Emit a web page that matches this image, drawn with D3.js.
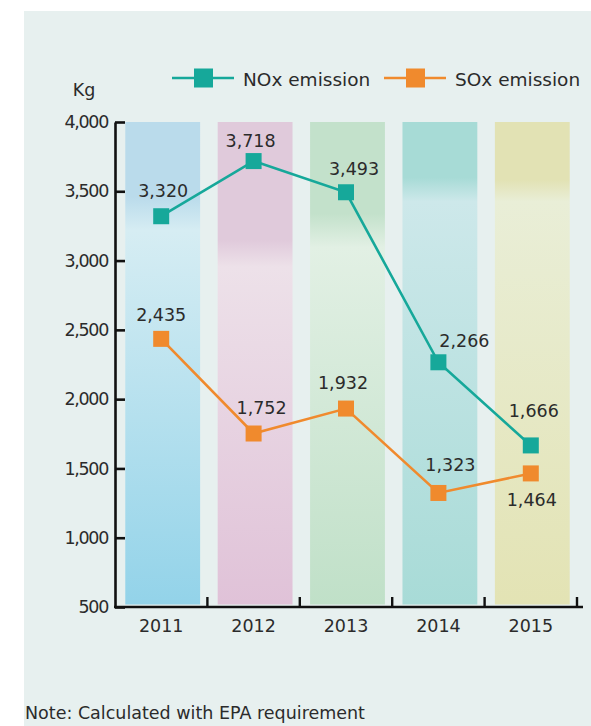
<!DOCTYPE html>
<html>
<head>
<meta charset="utf-8">
<script src="https://cdn.jsdelivr.net/npm/d3@7"></script>
<style>
  html, body { margin: 0; padding: 0; background: #ffffff; }
  svg { display: block; }
  text { font-family: "DejaVu Sans", sans-serif; fill: #2b2b2b; }
</style>
</head>
<body>
<script>
// Annual emissions (kg)
const years = ["2011", "2012", "2013", "2014", "2015"];
const noxValues = [3320, 3718, 3493, 2266, 1666];
const soxValues = [2435, 1752, 1932, 1323, 1464];
const yTicks = [500, 1000, 1500, 2000, 2500, 3000, 3500, 4000];

// Value-label placement relative to each marker [dx, dy]
const noxLabelOffset = [[2, -19], [-3, -14], [8, -17], [26, -15], [3, -28]];
const soxLabelOffset = [[0, -18], [8, -20], [-3, -20], [12, -22], [1, 33]];

// Column background tints: [top, highlight, bottom] and where the highlight band sits
const columnTints = [
  { top: "#badbeb", light: "#d6edf3", bottom: "#93d3e9", a: 0.155, b: 0.225 },
  { top: "#e0cadb", light: "#ede1e9", bottom: "#e0c2d8", a: 0.245, b: 0.30 },
  { top: "#c3e1cb", light: "#e2f0e4", bottom: "#c0e0c8", a: 0.19, b: 0.26 },
  { top: "#a7dbd6", light: "#cde8ea", bottom: "#a8dbd7", a: 0.115, b: 0.165 },
  { top: "#e2e2b4", light: "#e9eed7", bottom: "#e3e3b4", a: 0.12, b: 0.165 }
];

const W = 591, H = 726;
const noxColor = "#16a89a";
const soxColor = "#f08a2d";

const svg = d3.select("body").append("svg").attr("width", W).attr("height", H);

// panel background
svg.append("rect").attr("x", 24).attr("y", 11).attr("width", W - 24).attr("height", H - 11)
  .attr("fill", "#e7f0ef");

const x = d3.scaleBand().domain(years).range([115, 577]).paddingInner(0.19).paddingOuter(0.095);
const y = d3.scaleLinear().domain([500, 4000]).range([607, 122]);

// gradients for the column backdrops
const defs = svg.append("defs");
columnTints.forEach((t, i) => {
  const g = defs.append("linearGradient").attr("id", "col" + i)
    .attr("x1", 0).attr("y1", 0).attr("x2", 0).attr("y2", 1);
  [[0, t.top], [t.a, t.top], [t.b, t.light], [1, t.bottom]].forEach(([o, c]) =>
    g.append("stop").attr("offset", o).attr("stop-color", c));
});

// column backdrops sit a little right of the band centre
svg.append("g").selectAll("rect").data(years).join("rect")
  .attr("x", d => x(d) + 1.5)
  .attr("y", y(4000))
  .attr("width", x.bandwidth())
  .attr("height", y(500) - y(4000) - 2.5)
  .attr("fill", (d, i) => `url(#col${i})`);

// y axis
const yAxis = svg.append("g").attr("transform", "translate(115,0)")
  .call(d3.axisLeft(y).tickValues(yTicks).tickFormat(d3.format(","))
    .tickSizeInner(-10).tickSizeOuter(0).tickPadding(7));
yAxis.select(".domain").attr("stroke", "#111").attr("stroke-width", 2.6);
yAxis.selectAll(".tick line").attr("stroke", "#111").attr("stroke-width", 2.6);
yAxis.selectAll(".tick text")
  .attr("x", -7)
  .style("font-family", "DejaVu Sans, sans-serif").style("font-size", "17.5px")
  .style("letter-spacing", "-1.3px").attr("fill", "#2b2b2b");

svg.append("text").attr("x", 84).attr("y", 96).attr("text-anchor", "middle")
  .style("font-size", "17.5px").text("Kg");

// x axis
const xAxis = svg.append("g").attr("transform", `translate(0,${y(500)})`)
  .call(d3.axisBottom(x).tickSize(0).tickPadding(13));
xAxis.select(".domain").remove();
xAxis.selectAll(".tick text").style("font-family", "DejaVu Sans, sans-serif")
  .style("font-size", "17.5px").attr("fill", "#2b2b2b");

svg.append("line").attr("x1", 114).attr("x2", 583)
  .attr("y1", y(500)).attr("y2", y(500))
  .attr("stroke", "#111").attr("stroke-width", 2.6);
svg.append("g").selectAll("line").data(years).join("line")
  .attr("x1", d => x(d) + x.bandwidth() / 2 + x.step() / 2)
  .attr("x2", d => x(d) + x.bandwidth() / 2 + x.step() / 2)
  .attr("y1", y(500)).attr("y2", y(500) - 10)
  .attr("stroke", "#111").attr("stroke-width", 2.4);

// series
const cx = d => x(d) + x.bandwidth() / 2;
function drawSeries(values, color, offsets) {
  const pts = years.map((yr, i) => [cx(yr), y(values[i])]);
  svg.append("path").attr("d", d3.line()(pts))
    .attr("fill", "none").attr("stroke", color).attr("stroke-width", 2.6);
  svg.append("g").selectAll("rect").data(pts).join("rect")
    .attr("x", p => p[0] - 8).attr("y", p => p[1] - 8)
    .attr("width", 16).attr("height", 16).attr("fill", color);
  svg.append("g").selectAll("text").data(values).join("text")
    .attr("x", (v, i) => pts[i][0] + offsets[i][0])
    .attr("y", (v, i) => pts[i][1] + offsets[i][1])
    .attr("text-anchor", "middle")
    .style("font-size", "17.5px")
    .text(d3.format(","));
}
drawSeries(noxValues, noxColor, noxLabelOffset);
drawSeries(soxValues, soxColor, soxLabelOffset);

// legend
const legend = [
  { name: "NOx emission", color: noxColor, x0: 172 },
  { name: "SOx emission", color: soxColor, x0: 384 }
];
const lg = svg.append("g").selectAll("g").data(legend).join("g")
  .attr("transform", d => `translate(${d.x0},78)`);
lg.append("line").attr("x1", 0).attr("x2", 62).attr("stroke", d => d.color).attr("stroke-width", 2.6);
lg.append("rect").attr("x", 22).attr("y", -9.5).attr("width", 19).attr("height", 19)
  .attr("fill", d => d.color);
lg.append("text").attr("x", 71).attr("y", 7.5).style("font-size", "18.5px").text(d => d.name);

// note
svg.append("text").attr("x", 25).attr("y", 719).style("font-size", "17.5px")
  .text("Note: Calculated with EPA requirement");
</script>
</body>
</html>
